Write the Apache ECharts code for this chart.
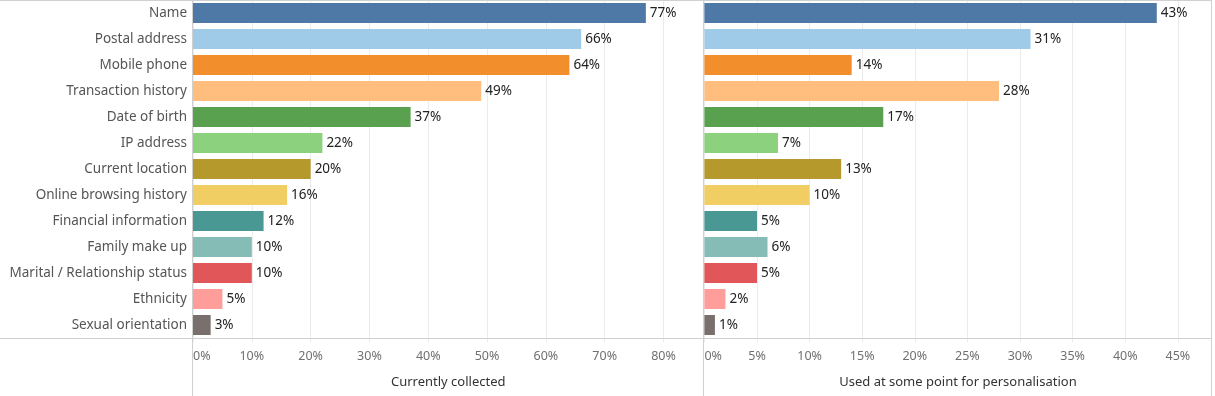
<!DOCTYPE html>
<html>
<head>
<meta charset="utf-8">
<script src="https://cdn.jsdelivr.net/npm/echarts@6/dist/echarts.min.js"></script>
<style>
html,body{margin:0;padding:0;background:#fff;}
#chart{width:1215px;height:396px;}
</style>
</head>
<body>
<div id="chart"></div>
<script>
const categories = ["Name","Postal address","Mobile phone","Transaction history","Date of birth","IP address","Current location","Online browsing history","Financial information","Family make up","Marital / Relationship status","Ethnicity","Sexual orientation"];
const currentlyCollected = [77,66,64,49,37,22,20,16,12,10,10,5,3];
const usedForPersonalisation = [43,31,14,28,17,7,13,10,5,6,5,2,1];
const colors = ["#4E79A7","#A0CBE8","#F28E2B","#FFBE7D","#59A14F","#8CD17D","#B6992D","#F1CE63","#499894","#86BCB6","#E15759","#FF9D9A","#79706E"];
const leftTitle = "Currently collected";
const rightTitle = "Used at some point for personalisation";

const FONT = "Noto Sans";
const chart = echarts.init(document.getElementById('chart'), null, {renderer:'canvas'});

function mkData(vals){
  return vals.map((v,i)=>({value:v,itemStyle:{color:colors[i]}}));
}
function xAxisCfg(gridIndex, max, interval, name){
  return {
    type:'value', gridIndex, min:0, max, interval,
    axisLine:{show:false},
    axisTick:{show:true, length:4, lineStyle:{color:'#ebebeb'}},
    splitLine:{show:true, lineStyle:{color:'#ebebeb', width:1}},
    axisLabel:{color:'#707070', fontFamily:FONT, fontSize:12.5, margin:12,
      formatter:v=>v+'%', showMaxLabel:false, alignMinLabel:'left'},
    name, nameLocation:'middle', nameGap:38,
    nameTextStyle:{color:'#333', fontFamily:FONT, fontSize:13}
  };
}
function yAxisCfg(gridIndex, showLabels){
  return {
    type:'category', gridIndex, data:categories, inverse:true,
    axisLine:{show:false}, axisTick:{show:false}, splitLine:{show:false},
    axisLabel:{show:showLabels, color:'#555', fontFamily:FONT, fontSize:13.5, margin:6}
  };
}
function seriesCfg(idx, vals){
  return {
    type:'bar', xAxisIndex:idx, yAxisIndex:idx, data:mkData(vals), barWidth:20,
    label:{show:true, position:'right', distance:4, formatter:p=>p.value+'%',
      color:'#222', fontFamily:FONT, fontSize:13.5},
    silent:true, animation:false
  };
}
const lineStyle = {stroke:'#d0d0d0', lineWidth:1};
chart.setOption({
  animation:false,
  grid:[
    {left:193, top:0, width:510.5, height:338},
    {left:704.4, top:0, width:507.1, height:338}
  ],
  xAxis:[xAxisCfg(0, 86.8, 10, leftTitle), xAxisCfg(1, 48.2, 5, rightTitle)],
  yAxis:[yAxisCfg(0,true), yAxisCfg(1,false)],
  series:[seriesCfg(0,currentlyCollected), seriesCfg(1,usedForPersonalisation)],
  graphic:[
    {type:'line', shape:{x1:0,y1:0.5,x2:1212,y2:0.5}, style:lineStyle, z:100},
    {type:'line', shape:{x1:0,y1:338.5,x2:1212,y2:338.5}, style:lineStyle, z:100},
    {type:'line', shape:{x1:192.5,y1:0,x2:192.5,y2:396}, style:lineStyle, z:100},
    {type:'line', shape:{x1:703.5,y1:0,x2:703.5,y2:396}, style:lineStyle, z:100},
    {type:'line', shape:{x1:1211.5,y1:0,x2:1211.5,y2:396}, style:lineStyle, z:100}
  ]
});
</script>
</body>
</html>
